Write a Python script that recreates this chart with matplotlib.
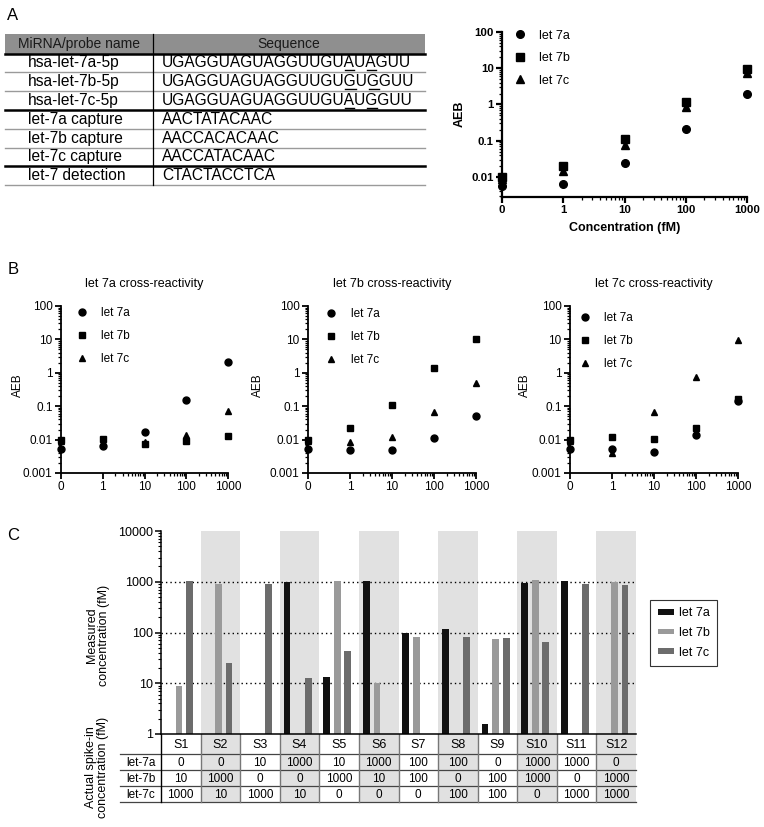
import matplotlib
matplotlib.use("Agg")
import matplotlib.pyplot as plt
import numpy as np
from matplotlib.ticker import LogLocator, NullFormatter, FixedLocator, NullLocator
from matplotlib.patches import Rectangle

plt.rcParams['font.family'] = ['Liberation Sans', 'DejaVu Sans']

# ---------------- data ----------------
# Panel A table
probe_names = ['hsa-let-7a-5p', 'hsa-let-7b-5p', 'hsa-let-7c-5p',
               'let-7a capture', 'let-7b capture', 'let-7c capture',
               'let-7 detection']
probe_seqs = ['UGAGGUAGUAGGUUGUAUAGUU', 'UGAGGUAGUAGGUUGUGUGGUU',
              'UGAGGUAGUAGGUUGUAUGGUU', 'AACTATACAAC', 'AACCACACAAC',
              'AACCATACAAC', 'CTACTACCTCA']
underlined = [[16, 18], [16, 18], [16, 18], [], [], [], []]

# concentrations (fM); "0" is drawn one decade below 1
conc_labels = ['0', '1', '10', '100', '1000']
conc_pos = [0.1, 1, 10, 100, 1000]
series_names = ['let 7a', 'let 7b', 'let 7c']

# Panel A calibration (AEB)
aeb_7a = [0.0055, 0.0064, 0.025, 0.21, 2.0]
aeb_7b = [0.010, 0.020, 0.11, 1.15, 9.3]
aeb_7c = [0.009, 0.015, 0.078, 0.83, 7.5]

# Panel B cross-reactivity (AEB)
xr_a_7a = [0.0054, 0.0065, 0.0166, 0.155, 2.14]
xr_a_7b = [0.010, 0.0107, 0.0076, 0.0089, 0.013]
xr_a_7c = [0.009, 0.0085, 0.0085, 0.014, 0.071]

xr_b_7a = [0.0053, 0.0050, 0.0048, 0.0115, 0.052]
xr_b_7b = [0.010, 0.022, 0.11, 1.4, 10.2]
xr_b_7c = [0.009, 0.0087, 0.012, 0.068, 0.49]

xr_c_7a = [0.0053, 0.0052, 0.0044, 0.014, 0.14]
xr_c_7b = [0.010, 0.0117, 0.0107, 0.023, 0.16]
xr_c_7c = [0.009, 0.0040, 0.066, 0.75, 9.8]

# Panel C measured concentration (fM), nan = no signal
samples = ['S%d' % i for i in range(1, 13)]
meas_7a = [np.nan, np.nan, np.nan, 970, 13, 1050, 98, 115, 1.55, 940, 1040, np.nan]
meas_7b = [8.7, 900, np.nan, np.nan, 1050, 10, 81, np.nan, 76, 1060, np.nan, 1000]
meas_7c = [1050, 24.7, 920, 12.7, 44, np.nan, np.nan, 82, 78, 66, 920, 880]

# Panel C actual spike-in (fM)
spike_rows = ['let-7a', 'let-7b', 'let-7c']
spike_7a = [0, 0, 10, 1000, 10, 1000, 100, 100, 0, 1000, 1000, 0]
spike_7b = [10, 1000, 0, 0, 1000, 10, 100, 0, 100, 1000, 0, 1000]
spike_7c = [1000, 10, 1000, 10, 0, 0, 0, 100, 100, 0, 1000, 1000]

# ---------------- figure ----------------
W, H = 764, 827
fig = plt.figure(figsize=(W / 100, H / 100), dpi=100)


def px_axes(x0, y0, x1, y1):
    return fig.add_axes([x0 / W, 1 - y1 / H, (x1 - x0) / W, (y1 - y0) / H])


# overlay in pixel coordinates for tables and free text
ov = fig.add_axes([0, 0, 1, 1])
ov.set_xlim(0, W)
ov.set_ylim(H, 0)
ov.axis('off')
renderer = fig.canvas.get_renderer()


def text_width(s, **kw):
    t = ov.text(0, 0, s, **kw)
    w = t.get_window_extent(renderer).width
    t.remove()
    return w


def px_legend(ax, marker_x, row1_y, text_x, pitch, fs_pt):
    fs = fs_pt * 100 / 72
    hl = 1.0
    th = 0.95 * fs
    ax.legend(loc='upper left',
              bbox_to_anchor=((marker_x - hl * fs / 2) / W, 1 - (row1_y + 1.5 - th / 2) / H),
              bbox_transform=fig.transFigure, frameon=False, fontsize=fs_pt,
              handlelength=hl, numpoints=1,
              handletextpad=(text_x - marker_x - hl * fs / 2) / fs,
              labelspacing=(pitch - th) / fs, borderpad=0, borderaxespad=0)


def style_log_axes(ax, yticks, ylabels, bold, fs_pt):
    ax.set_xscale('log')
    ax.set_yscale('log')
    ax.set_xlim(0.1, 1000)
    for s in ['top', 'right']:
        ax.spines[s].set_visible(False)
    lw = 1.6 if bold else 1.3
    ax.spines['left'].set_linewidth(lw)
    ax.spines['bottom'].set_linewidth(lw)
    fw = 'bold' if bold else 'normal'
    ax.set_xticks(conc_pos, conc_labels, fontsize=fs_pt, fontweight=fw)
    ax.xaxis.set_minor_locator(FixedLocator([k * 10 ** d for d in range(3) for k in range(2, 10)]))
    ax.set_yticks(yticks, ylabels, fontsize=fs_pt, fontweight=fw)
    ax.yaxis.set_minor_locator(LogLocator(base=10, subs=np.arange(2, 10), numticks=30))
    ax.yaxis.set_minor_formatter(NullFormatter())
    ax.tick_params(which='major', length=4, width=lw, pad=2)
    ax.tick_params(which='minor', length=2.2, width=0.9)


markers = ['o', 's', '^']

# ---------------- Panel A: table ----------------
ov.text(13, 15, 'A', fontsize=12, ha='center', va='center')
t_left, t_right, t_split = 5, 425, 153
h_top, h_bot = 34, 53.5
row_h = 18.8
fs_tab = 11.2
ov.add_patch(Rectangle((t_left, h_top), t_right - t_left, h_bot - h_top,
                       facecolor='#8f8f8f', edgecolor='none'))
ov.text((t_left + t_split) / 2, (h_top + h_bot) / 2, 'MiRNA/probe name',
        fontsize=10, ha='center', va='center', color='#1a1a1a')
ov.text((t_split + t_right) / 2, (h_top + h_bot) / 2, 'Sequence',
        fontsize=10, ha='center', va='center', color='#1a1a1a')
ov.plot([t_left, t_right], [h_bot, h_bot], color='black', lw=1.8)
for i, (name, seq) in enumerate(zip(probe_names, probe_seqs)):
    yc = h_bot + (i + 0.5) * row_h
    ov.text(28, yc, name, fontsize=fs_tab, ha='left', va='center')
    ov.text(162, yc, seq, fontsize=fs_tab, ha='left', va='center')
    for k in underlined[i]:
        x0 = 162 + text_width(seq[:k], fontsize=fs_tab)
        x1 = 162 + text_width(seq[:k + 1], fontsize=fs_tab)
        ov.plot([x0 + 0.8, x1 - 0.8], [yc + 7.5, yc + 7.5], color='black', lw=1)
    yb = h_bot + (i + 1) * row_h
    if i in (2, 5):
        ov.plot([t_left, t_right], [yb, yb], color='black', lw=1.8)
    else:
        ov.plot([t_left, t_right], [yb, yb], color='#9a9a9a', lw=1)
ov.plot([t_split, t_split], [h_top, h_bot + len(probe_names) * row_h], color='black', lw=0.9)

# ---------------- Panel A: calibration ----------------
axA = px_axes(502, 32, 747, 197)
for vals, m, lab in zip([aeb_7a, aeb_7b, aeb_7c], markers, series_names):
    axA.plot(conc_pos, vals, ls='none', marker=m, color='black', ms=5.5,
             clip_on=False, label=lab, zorder=3)
style_log_axes(axA, [0.01, 0.1, 1, 10, 100], ['0.01', '0.1', '1', '10', '100'], True, 8.2)
axA.set_ylim(0.0028, 100)
axA.set_xlabel('Concentration (fM)', fontsize=9, fontweight='bold', labelpad=5)
ov.text(460, 114, 'AEB', fontsize=9, fontweight='bold', rotation=90, ha='center', va='center')
px_legend(axA, 520, 34, 539, 22.5, 9)

# ---------------- Panel B ----------------
ov.text(13, 270, 'B', fontsize=12, ha='center', va='center')
b_axes = [(61, 228), (308, 476), (570, 738)]
b_titles = ['let 7a cross-reactivity', 'let 7b cross-reactivity', 'let 7c cross-reactivity']
b_data = [[xr_a_7a, xr_a_7b, xr_a_7c], [xr_b_7a, xr_b_7b, xr_b_7c], [xr_c_7a, xr_c_7b, xr_c_7c]]
b_ylab_x = [18, 258, 525]
b_leg = [(82, 311, 101), (331, 312, 351), (585, 316, 604)]
for (x0, x1), title, data, lx, (mx, my, tx) in zip(b_axes, b_titles, b_data, b_ylab_x, b_leg):
    ax = px_axes(x0, 306, x1, 473)
    for vals, m, lab in zip(data, markers, series_names):
        ax.plot(conc_pos, vals, ls='none', marker=m, color='black', ms=5,
                clip_on=False, label=lab, zorder=3)
    style_log_axes(ax, [0.001, 0.01, 0.1, 1, 10, 100],
                   ['0.001', '0.01', '0.1', '1', '10', '100'], False, 8.5)
    ax.set_ylim(0.001, 100)
    ax.set_title(title, fontsize=9, pad=14)
    ov.text(lx, 385, 'AEB', fontsize=8.5, rotation=90, ha='center', va='center')
    px_legend(ax, mx, my, tx, 22.5, 8.5)

# ---------------- Panel C: bars ----------------
ov.text(13, 535, 'C', fontsize=12, ha='center', va='center')
c_x0, c_x1, c_top, c_bot = 161, 636, 531, 734
axC = px_axes(c_x0, c_top, c_x1, c_bot)
n = len(samples)
x = np.arange(n)
axC.set_yscale('log')
axC.set_ylim(1, 10000)
axC.set_xlim(-0.5, n - 0.5)
for j in range(1, n, 2):
    axC.axvspan(j - 0.5, j + 0.5, color='#e1e1e1', lw=0, zorder=0)
for yv in [10, 100, 1000]:
    axC.axhline(yv, color='black', ls=(0, (1, 2.2)), lw=1, zorder=1)
bar_cols = ['#111111', '#9a9a9a', '#6c6c6c']
offsets = [-0.315, -0.045, 0.22]
for vals, col, off, lab in zip([meas_7a, meas_7b, meas_7c], bar_cols, offsets, series_names):
    v = np.array(vals, dtype=float)
    axC.bar(x + off, v - 1, bottom=1, width=0.17, color=col, label=lab, zorder=2)
for s in ['top', 'right']:
    axC.spines[s].set_visible(False)
axC.spines['left'].set_linewidth(1.1)
axC.spines['bottom'].set_linewidth(1.1)
axC.xaxis.set_major_locator(NullLocator())
axC.set_yticks([1, 10, 100, 1000, 10000], ['1', '10', '100', '1000', '10000'], fontsize=9)
axC.yaxis.set_minor_locator(LogLocator(base=10, subs=np.arange(2, 10), numticks=30))
axC.yaxis.set_minor_formatter(NullFormatter())
axC.tick_params(which='major', length=4, width=1.1, pad=2)
axC.tick_params(which='minor', length=2.2, width=0.8)
ov.text(98, 635, 'Measured\nconcentration (fM)', fontsize=9, rotation=90,
        ha='center', va='center', multialignment='center', linespacing=1.1)
axC.legend(loc='upper left', bbox_to_anchor=(650 / W, 1 - 600 / H), bbox_transform=fig.transFigure,
           fontsize=9, frameon=True, fancybox=False, edgecolor='#333333', framealpha=1,
           handlelength=1.3, handleheight=0.35, handletextpad=0.4, labelspacing=0.6,
           borderpad=0.6, borderaxespad=0)
axC.get_legend().get_frame().set_linewidth(0.8)

# ---------------- Panel C: spike-in table ----------------
cw = (c_x1 - c_x0) / n
row_edges = [734, 754, 770, 786, 802]
lab_x0 = 120
for j in range(1, n, 2):
    ov.add_patch(Rectangle((c_x0 + j * cw, row_edges[0]), cw, row_edges[-1] - row_edges[0],
                           facecolor='#e1e1e1', edgecolor='none', zorder=0))
for j, s in enumerate(samples):
    ov.text(c_x0 + (j + 0.5) * cw, (row_edges[0] + row_edges[1]) / 2 + 0.5, s,
            fontsize=9, ha='center', va='center')
for r, (rname, vals) in enumerate(zip(spike_rows, [spike_7a, spike_7b, spike_7c])):
    yc = (row_edges[r + 1] + row_edges[r + 2]) / 2 + 0.5
    ov.text((lab_x0 + c_x0) / 2, yc, rname, fontsize=8.5, ha='center', va='center')
    for j, v in enumerate(vals):
        ov.text(c_x0 + (j + 0.5) * cw, yc, str(v), fontsize=8.5, ha='center', va='center')
for ye in row_edges[1:]:
    ov.plot([lab_x0, c_x0 + n * cw], [ye, ye], color='#444444', lw=0.9)
ov.plot([c_x0, c_x0], [row_edges[0], row_edges[-1]], color='black', lw=1)
for j in range(1, n):
    xe = c_x0 + j * cw
    ov.plot([xe, xe], [row_edges[0], row_edges[-1]], color='#777777', lw=1)
ov.text(97, 767, 'Actual spike-in\nconcentration (fM)', fontsize=9, rotation=90,
        ha='center', va='center', multialignment='center', linespacing=1.1)

fig.savefig('out.png', dpi=100)
